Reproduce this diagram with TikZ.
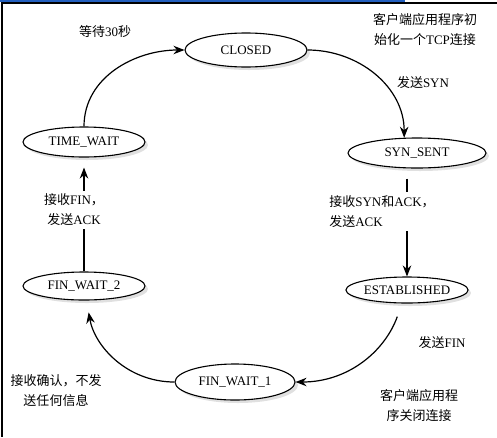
\documentclass[tikz,border=0pt]{standalone}
\usepackage{fontspec}
\setmainfont{Liberation Serif}
\newfontfamily\cjk{Noto Sans CJK SC}
\newcommand{\zh}[1]{{\cjk #1}}
\usepackage{xcolor}
\definecolor{barblue}{RGB}{35,95,190}
\usetikzlibrary{shapes.geometric, arrows.meta, shadows}
\usetikzlibrary{positioning}

\begin{document}
\begin{tikzpicture}[x=1pt, y=-1pt, on grid, line width=1.2pt,
    >={Stealth[length=11pt, width=8.5pt]},
    state/.style={ellipse, draw, fill=white, line width=1.1pt, minimum width=122pt,
        minimum height=30pt, inner sep=0pt, font=\fontsize{13}{15}\selectfont,
        drop shadow={shadow xshift=3pt, shadow yshift=-3pt, opacity=0.12, fill=black}},
    lbl/.style={font=\fontsize{13}{20}\selectfont, align=center}]

            % Cadre
            \useasboundingbox (0,0) rectangle (497,437);
            \fill[barblue] (0,0) rectangle (405,2);
            \draw[line width=1.2pt] (497,3) -- (2,3) -- (2,437);

            % Les états
            \node[state, minimum height=34pt] (closed) at (246,50) {CLOSED};
            \node[state, below left=92pt and 162pt of closed] (timewait) {TIME\_WAIT};
            \node[state, minimum width=138pt, below right=103pt and 171pt of closed] (synsent) {SYN\_SENT};
            \node[state, minimum height=26pt, below left=137pt and 10pt of synsent] (established) {ESTABLISHED};
            \node[state, minimum height=28pt, below=144pt of timewait] (finwait2) {FIN\_WAIT\_2};
            \node[state, minimum width=120pt, minimum height=36pt, below left=92pt and 172pt of established] (finwait1) {FIN\_WAIT\_1};

            % Les transitions
            \path[->]
            (timewait) edge[out=90, in=180] (closed)
            (closed) edge[out=0, in=90] (synsent.130)
            (synsent.south -| established.north) edge[shorten <=10pt] node[lbl, fill=white, align=left, pos=0.4, xshift=-25pt]
                {\zh{接收}SYN\zh{和}ACK\zh{，}\\\zh{发送}ACK} (established.north)
            (established) edge[out=-110, in=0, shorten <=14pt] (finwait1)
            (finwait1) edge[out=180, in=-80, shorten >=12pt] (finwait2)
            (finwait2) edge[shorten >=10pt] node[lbl, fill=white, pos=0.54, xshift=-10pt]
                {\zh{接收}FIN\zh{，}\\\zh{发送}ACK} (timewait);

            % Les étiquettes
            \node[lbl] (wait) at (105,32) {\zh{等待}30\zh{秒}};
            \node[lbl] (init) at (425,30) {\zh{客户端应用程序初}\\\zh{始化一个}TCP\zh{连接}};
            \node[lbl] (sendsyn) at (423,83) {\zh{发送}SYN};
            \node[lbl] (sendfin) at (442,343) {\zh{发送}FIN};
            \node[lbl] (close) at (419,406) {\zh{客户端应用程}\\\zh{序关闭连接}};
            \node[lbl] (ack) at (56,391) {\zh{接收确认，不发}\\\zh{送任何信息}};

        \end{tikzpicture}
\end{document}
